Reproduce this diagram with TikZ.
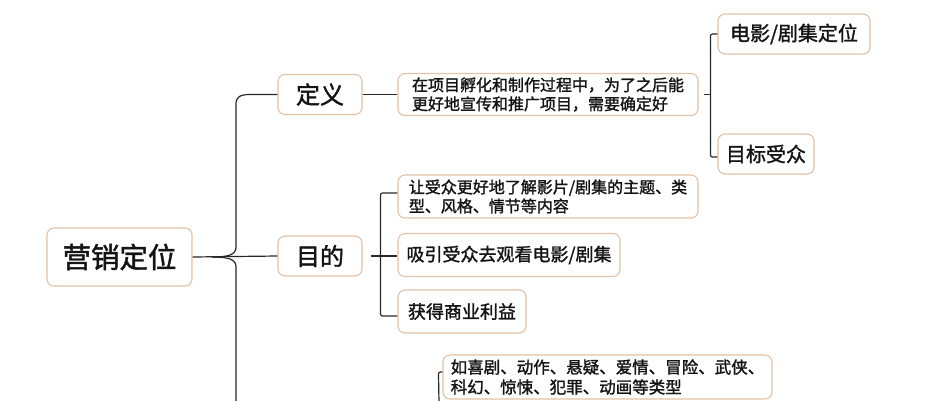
\documentclass[tikz,border=0pt]{standalone}
\usepackage{fontspec}
\setmainfont{Noto Sans CJK SC}[FakeBold=1.5]
\definecolor{boxc}{RGB}{226,194,168}
\definecolor{linec}{RGB}{40,40,40}
\definecolor{txtc}{RGB}{20,20,20}
\begin{document}
\begin{tikzpicture}[x=1pt,y=-1pt,
  box/.style={draw=boxc, line width=1.1pt, rounded corners=7pt, fill=white, inner sep=0pt, align=left, text=txtc},
  conn/.style={draw=linec, line width=1.2pt},
  brk/.style={conn, rounded corners=2pt}]
\useasboundingbox[fill=white] (0,0) rectangle (933,400);
% nodes
\node[box, minimum width=145pt, minimum height=58pt, font=\fontsize{28.5pt}{32pt}\selectfont] (root) at (119.5,257) {营销定位};
\node[box, minimum width=84pt, minimum height=40pt, font=\fontsize{24pt}{28pt}\selectfont] (dyi) at (320,94.5) {定义};
\node[box, minimum width=84pt, minimum height=40pt, font=\fontsize{24pt}{28pt}\selectfont] (md) at (320,256) {目的};
\node[box, minimum width=300pt, minimum height=42pt, font=\fontsize{16pt}{19pt}\selectfont] (zx) at (548,94.5) {在项目孵化和制作过程中，为了之后能\\更好地宣传和推广项目，需要确定好};
\node[box, minimum width=152pt, minimum height=40pt, font=\fontsize{20pt}{24pt}\selectfont] (dy) at (794,34) {电影/剧集定位};
\node[box, minimum width=96pt, minimum height=40pt, font=\fontsize{20pt}{24pt}\selectfont] (mb) at (766,154) {目标受众};
\node[box, minimum width=300pt, minimum height=43pt, font=\fontsize{16pt}{19pt}\selectfont] (rs) at (548,196.5) {让受众更好地了解影片/剧集的主题、类\\型、风格、情节等内容};
\node[box, minimum width=222pt, minimum height=43pt, font=\fontsize{18pt}{22pt}\selectfont] (xy) at (509,255) {吸引受众去观看电影/剧集};
\node[box, minimum width=128pt, minimum height=43pt, font=\fontsize{18pt}{22pt}\selectfont] (hd) at (462,311.5) {获得商业利益};
\node[box, minimum width=329pt, minimum height=44pt, font=\fontsize{16.5pt}{20pt}\selectfont] (rx) at (607.5,377) {如喜剧、动作、悬疑、爱情、冒险、武侠、\\科幻、惊悚、犯罪、动画等类型};
% coordinates
\coordinate (rj) at (212,257);
\coordinate (tu) at (236,247);
\coordinate (tt) at (236,104);
\coordinate (dj) at (250,94.5);
\coordinate (td) at (236,267);
\coordinate (tb) at (236,403);
\coordinate (rb) at (439,403);
% connectors
\draw[conn] (root.east) -- (md.west);
\draw[conn] (rj) .. controls (228,257) and (236,255) .. (tu) -- (tt) .. controls (236,97) and (240,94.5) .. (dj) -- (dyi.west);
\draw[conn] (rj) .. controls (228,257) and (236,259) .. (td) -- (tb);
\draw[conn] (dyi.east) -- (zx.west);
\draw[conn] ([xshift=5pt]zx.east) -- ([xshift=-7pt]zx.east -| dy.west);
\draw[brk] (dy.west) -- ++(-7,0) -- ([xshift=-7pt,yshift=-3pt]mb.west) -- ([yshift=-3pt]mb.west);
\draw[conn] ([xshift=8pt]md.east) -- (md.east -| xy.west);
\draw[brk] ([yshift=3.5pt]rs.west) -- ++(-17,0) -- ([xshift=-17pt,yshift=-4.5pt]hd.west) -- ([yshift=-4.5pt]hd.west);
\draw[brk] ([yshift=5pt]rx.west) -- ++(-4,0) -- (rb);
\end{tikzpicture}
\end{document}
